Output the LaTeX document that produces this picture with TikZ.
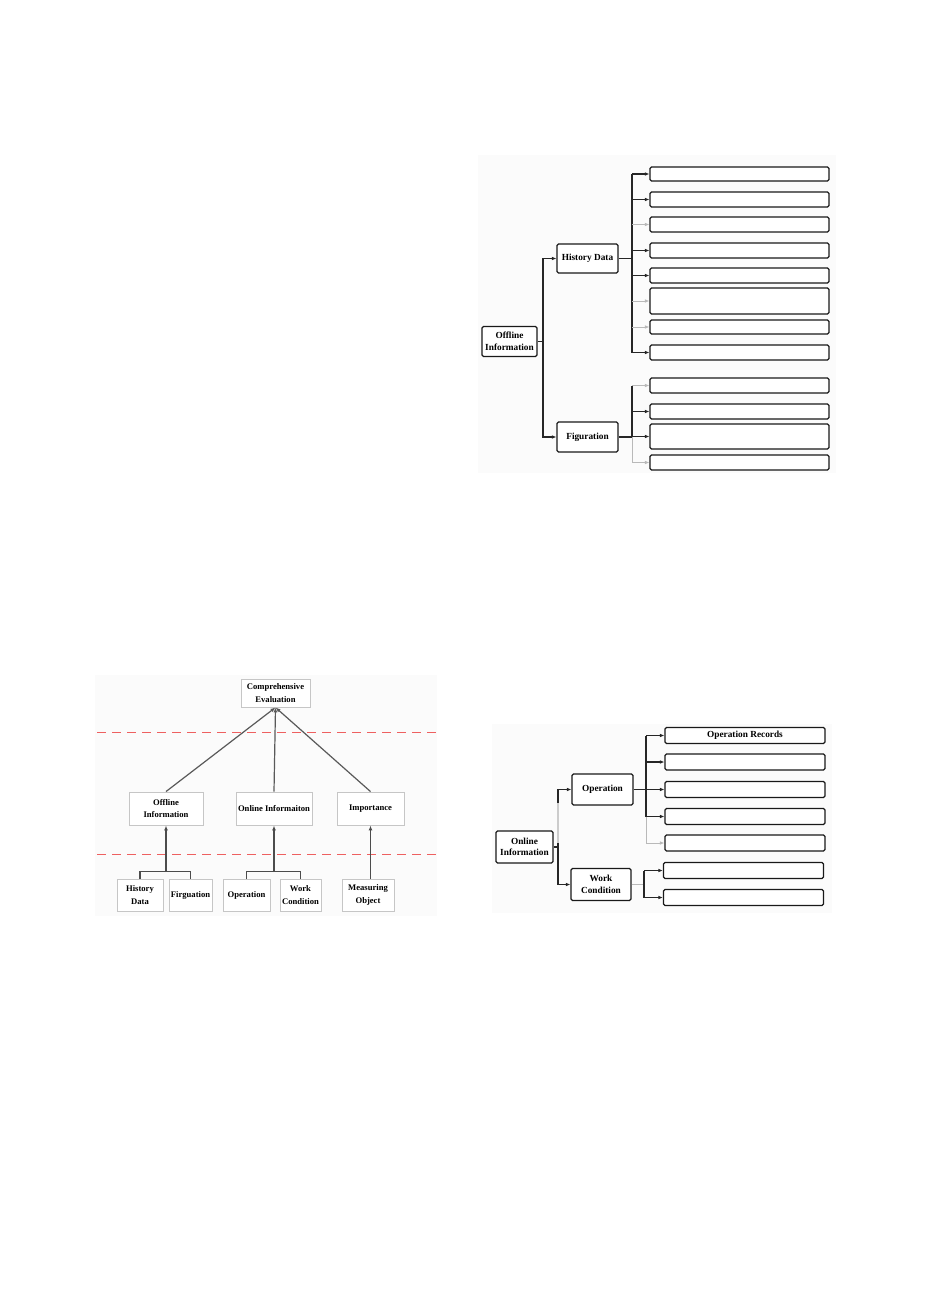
\documentclass[tikz,border=0pt]{standalone}
\usepackage{fontspec}
\setmainfont{Liberation Serif}
\usetikzlibrary{arrows.meta}
\tikzset{
  rbox/.style={draw=black!90, line width=1.1pt, rounded corners=1.5pt, fill=white, inner sep=0pt,
    align=center, font=\bfseries\fontsize{9.3}{11.6}\selectfont},
  gbox/.style={draw=gray!45, line width=0.9pt, fill=white, inner sep=0pt,
    align=center, font=\bfseries\fontsize{8.6}{12.5}\selectfont},
  conn/.style={line width=1.1pt, draw=black!85},
  arr/.style={conn, -{Latex[length=4.5pt,width=3.6pt]}},
  garr/.style={line width=0.9pt, draw=gray!55, -{Latex[length=4.5pt,width=3.6pt]}},
  tarr/.style={line width=1.2pt, draw=black!65, -{Latex[length=5pt,width=4pt]}},
  darr/.style={line width=1.6pt, draw=black!70, -{Latex[length=5pt,width=4pt]}},
  panel/.style={fill=black!1.5, draw=none},
  reddash/.style={draw={rgb,255:red,238;green,96;blue,96}, line width=1.3pt, dash pattern=on 9pt off 6pt},
}
\begin{document}
\begin{tikzpicture}[x=1pt,y=-1pt]
\useasboundingbox[fill=white] (0,0) rectangle (926,1309);
% panels
\fill[panel] (478,155) rectangle (836,473);
\fill[panel] (95,675) rectangle (437,916);
\fill[panel] (492,724) rectangle (832,913);

%================ Top right: Offline Information =================
\node[rbox, minimum width=55pt, minimum height=30pt] (off) at (509.5,341.5) {Offline\\Information};
\node[rbox, minimum width=61pt, minimum height=29pt] (hd) at (587.5,258.5) {History Data};
\node[rbox, minimum width=61pt, minimum height=30pt] (fig) at (587.5,437) {Figuration};
\foreach \n/\yc/\h in {h1/174/14, h2/199.5/15, h3/224.5/15, h4/250.5/15, h5/275.5/15, h6/301/26, h7/327/14, h8/352.5/15,
                       f1/385.5/15, f2/411.5/15, f3/436.5/25, f4/462.5/15}
  \node[rbox, minimum width=179pt, minimum height=\h pt] (\n) at (739.5,\yc) {};
\coordinate (ot) at (543,341.5);
\draw[conn] (off.east) -- (ot);
\draw[arr] (ot) |- (hd.west);
\draw[arr] (ot) |- (fig.west);
\coordinate (hb) at (632,258.5);
\draw[conn] (hd.east) -- (hb);
\draw[conn] (h1.west -| hb) -- (h8.west -| hb);
\foreach \n in {h1,h2,h4,h5,h8} \draw[arr] (\n.west -| hb) -- (\n.west);
\foreach \n in {h3,h6,h7} \draw[garr] (\n.west -| hb) -- (\n.west);
\coordinate (fb) at (632,437);
\draw[conn] (fig.east) -- (fb);
\draw[conn] (f1.west -| fb) -- (f3.west -| fb);
\draw[line width=0.9pt, gray!55] (f3.west -| fb) -- (f4.west -| fb);
\foreach \n in {f2,f3} \draw[arr] (\n.west -| fb) -- (\n.west);
\foreach \n in {f1,f4} \draw[garr] (\n.west -| fb) -- (\n.west);

%================ Bottom left: hierarchy =================
\draw[reddash] (97,732.5) -- (437,732.5);
\draw[reddash] (97,854.5) -- (437,854.5);
\node[gbox, minimum width=69pt, minimum height=28pt] (ce) at (275.5,693) {Comprehensive\\Evaluation};
\node[gbox, minimum width=74pt, minimum height=33pt] (ofi) at (166,808.5) {Offline\\Information};
\node[gbox, minimum width=76pt, minimum height=33pt] (oni) at (274,808.5) {Online Informaiton};
\node[gbox, minimum width=67pt, minimum height=33pt] (imp) at (370.5,808.5) {Importance};
\node[gbox, minimum width=46pt, minimum height=32pt] (bhd) at (140,895) {History\\Data};
\node[gbox, minimum width=43pt, minimum height=32pt] (bfg) at (190.5,895) {Firguation};
\node[gbox, minimum width=47pt, minimum height=32pt] (bop) at (246.5,895) {Operation};
\node[gbox, minimum width=41pt, minimum height=32pt] (bwc) at (300.5,895) {Work\\Condition};
\node[gbox, minimum width=52pt, minimum height=32pt] (bmo) at (368,895) {Measuring\\Object};
\draw[tarr] (ofi.north) -- (ce.south);
\draw[tarr] (oni.north) -- (ce.south);
\draw[tarr] (imp.north) -- (ce.south);
\draw[line width=1.4pt, black!70] (bhd.north) -- ++(0,-7) -| (bfg.north);
\draw[line width=1.4pt, black!70] (bop.north) -- ++(0,-7) -| (bwc.north);
\draw[darr] (ofi.south |- 0,872) -- (ofi.south);
\draw[darr] (oni.south |- 0,872) -- (oni.south);
\draw[darr] (bmo.north -| imp.south) -- (imp.south);

%================ Bottom right: Online Information =================
\node[rbox, minimum width=57pt, minimum height=32pt] (onl) at (524.5,847) {Online\\Information};
\node[rbox, minimum width=61pt, minimum height=31pt] (op) at (602.5,789.5) {Operation};
\node[rbox, minimum width=60pt, minimum height=32pt] (wc) at (601,884.5) {Work\\Condition};
\node[rbox, minimum width=160pt, minimum height=16pt] (r1) at (745,735.5) {Operation Records};
\foreach \n/\yc in {r2/762, r3/789.5, r4/816.5, r5/843}
  \node[rbox, minimum width=160pt, minimum height=16pt] (\n) at (745,\yc) {};
\foreach \n/\yc in {r6/870.5, r7/897.5}
  \node[rbox, minimum width=160pt, minimum height=16pt] (\n) at (743.5,\yc) {};
\coordinate (nt) at (558,847);
\draw[conn] (onl.east) -- (nt);
\draw[arr] (nt) |- (op.west);
\draw[line width=1.2pt, gray!40] (558,803) -- (558,843);
\draw[arr] (nt) |- (wc.west);
\coordinate (ob) at (646,789.5);
\draw[conn] (op.east) -- (ob);
\draw[conn] (r1.west -| ob) -- (r4.west -| ob);
\draw[line width=0.9pt, gray!55] (r4.west -| ob) -- (r5.west -| ob);
\foreach \n in {r1,r2,r3,r4} \draw[arr] (\n.west -| ob) -- (\n.west);
\draw[garr] (r5.west -| ob) -- (r5.west);
\coordinate (wb) at (644,884.5);
\draw[line width=1.1pt, gray!55] (wc.east) -- (wb);
\draw[conn] (r6.west -| wb) -- (r7.west -| wb);
\foreach \n in {r6,r7} \draw[arr] (\n.west -| wb) -- (\n.west);
\end{tikzpicture}
\end{document}
